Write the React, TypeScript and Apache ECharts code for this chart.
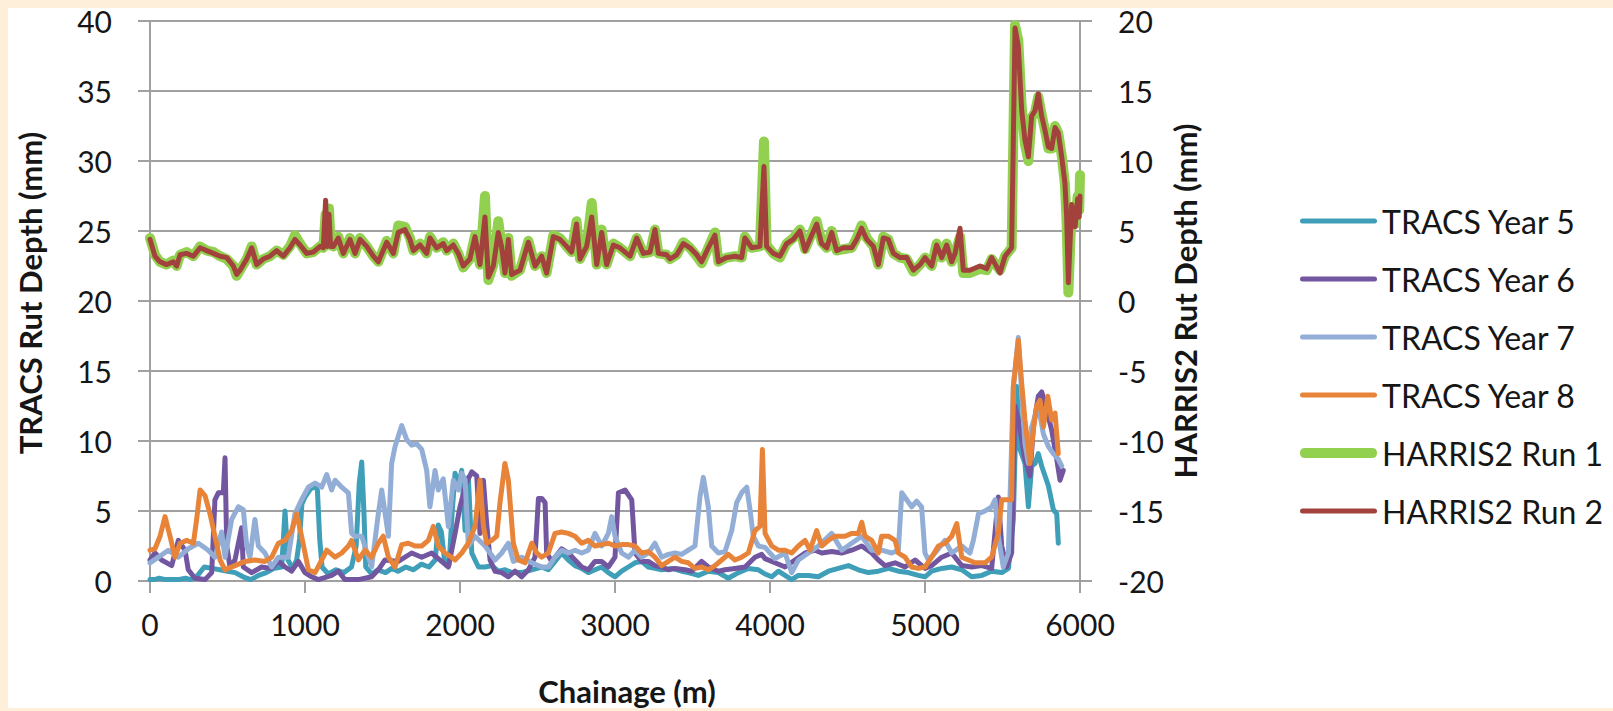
import React, { useEffect, useRef } from "react";
import * as echarts from "echarts";

// ---------------- DATA ----------------
const seriesNames = [
  "TRACS Year 5",
  "TRACS Year 6",
  "TRACS Year 7",
  "TRACS Year 8",
  "HARRIS2 Run 1",
  "HARRIS2 Run 2",
];

const xTicks = [0, 1000, 2000, 3000, 4000, 5000, 6000];

// TRACS Year 5 (left axis, mm)
const y5Chainage = [0, 30, 60, 100, 140, 180, 230, 260, 300, 350, 400, 450, 500, 550, 600, 650, 700, 750, 800, 850, 871, 890, 920, 946, 965, 980, 1000, 1030, 1060, 1080, 1095, 1110, 1150, 1200, 1250, 1300, 1330, 1350, 1366, 1380, 1392, 1430, 1470, 1520, 1560, 1600, 1650, 1700, 1750, 1800, 1840, 1860, 1880, 1900, 1930, 1950, 1968, 1990, 2011, 2033, 2054, 2076, 2097, 2119, 2162, 2205, 2248, 2291, 2334, 2398, 2463, 2527, 2570, 2613, 2656, 2699, 2742, 2785, 2828, 2871, 2914, 2957, 3000, 3043, 3086, 3129, 3172, 3215, 3258, 3301, 3366, 3430, 3473, 3538, 3602, 3667, 3731, 3796, 3860, 3925, 3968, 4011, 4054, 4097, 4140, 4183, 4248, 4312, 4377, 4441, 4506, 4570, 4635, 4699, 4764, 4828, 4893, 4957, 5000, 5043, 5108, 5172, 5237, 5301, 5366, 5430, 5495, 5538, 5570, 5592, 5613, 5645, 5667, 5688, 5710, 5731, 5753, 5796, 5828, 5850, 5860];
const y5Depth = [0.1, 0.1, 0.2, 0.1, 0.1, 0.1, 0.2, 0.1, 0.3, 1.0, 0.9, 0.8, 0.7, 0.6, 0.3, 0.1, 0.4, 0.6, 0.9, 1.0, 5.0, 1.5, 0.9, 1.5, 3.0, 5.5, 6.0, 6.5, 6.8, 6.5, 3.0, 1.0, 0.5, 0.8, 0.6, 1.0, 2.5, 7.0, 8.5, 5.0, 1.0, 0.5, 0.8, 0.6, 0.9, 0.7, 1.0, 0.8, 1.2, 1.0, 1.5, 4.0, 3.5, 1.5, 1.2, 5.0, 7.7, 6.8, 7.9, 3.6, 7.4, 2.0, 1.5, 1.0, 1.0, 1.1, 0.7, 0.8, 0.6, 0.6, 0.8, 1.0, 0.8, 1.4, 2.0, 1.5, 1.1, 0.9, 0.6, 0.8, 1.0, 0.6, 0.3, 0.7, 1.0, 1.3, 1.4, 1.0, 0.9, 0.8, 0.9, 0.7, 0.6, 0.4, 0.7, 0.6, 0.2, 0.6, 0.9, 0.8, 0.5, 0.3, 0.7, 0.4, 0.1, 0.4, 0.4, 0.3, 0.7, 0.9, 1.1, 0.8, 0.6, 0.7, 0.9, 0.7, 0.6, 0.4, 0.3, 0.7, 0.9, 1.0, 0.8, 0.3, 0.4, 0.7, 0.6, 0.9, 4.4, 13.9, 9.4, 8.4, 5.3, 8.2, 8.4, 9.1, 8.2, 6.8, 5.1, 4.8, 2.7];

// TRACS Year 6
const y6Chainage = [0, 32, 75, 140, 183, 226, 247, 290, 355, 398, 419, 441, 473, 484, 495, 516, 548, 591, 602, 656, 720, 785, 828, 871, 914, 957, 1000, 1043, 1086, 1172, 1215, 1258, 1344, 1430, 1473, 1516, 1602, 1688, 1753, 1817, 1860, 1925, 1968, 2000, 2040, 2076, 2108, 2129, 2151, 2172, 2194, 2226, 2269, 2312, 2355, 2398, 2441, 2484, 2506, 2527, 2549, 2559, 2592, 2635, 2656, 2699, 2742, 2785, 2828, 2871, 2914, 2957, 3000, 3022, 3065, 3108, 3129, 3172, 3215, 3258, 3301, 3344, 3387, 3452, 3495, 3559, 3602, 3667, 3710, 3774, 3839, 3903, 3946, 3968, 4032, 4097, 4161, 4226, 4291, 4334, 4398, 4463, 4527, 4592, 4656, 4699, 4742, 4807, 4871, 4936, 5000, 5043, 5108, 5172, 5237, 5301, 5366, 5430, 5473, 5495, 5527, 5559, 5581, 5602, 5645, 5677, 5699, 5731, 5753, 5785, 5817, 5850, 5871, 5892];
const y6Depth = [1.5, 2.0, 1.5, 1.1, 2.9, 2.2, 0.8, 0.2, 0.1, 0.6, 5.8, 6.3, 6.3, 8.8, 2.5, 1.0, 1.5, 3.8, 1.0, 0.6, 1.0, 0.9, 1.4, 1.0, 0.7, 1.4, 0.6, 0.3, 0.1, 0.4, 0.7, 0.1, 0.1, 0.3, 0.8, 1.5, 1.4, 2.0, 1.7, 2.0, 1.6, 1.0, 3.4, 5.3, 7.0, 7.8, 7.5, 3.4, 7.2, 4.1, 1.5, 0.7, 0.6, 0.3, 0.7, 0.3, 0.8, 1.7, 5.9, 5.9, 5.6, 2.0, 1.4, 2.0, 2.3, 2.0, 1.5, 1.0, 0.8, 1.4, 1.4, 1.0, 1.7, 6.3, 6.5, 5.8, 2.0, 1.4, 1.4, 1.1, 1.0, 0.8, 0.9, 0.8, 0.7, 1.4, 1.0, 0.7, 0.8, 0.9, 1.0, 1.7, 1.9, 1.6, 1.3, 1.0, 1.5, 2.0, 2.2, 2.0, 2.1, 2.0, 2.2, 2.5, 2.0, 1.5, 1.1, 1.3, 1.0, 1.5, 0.9, 1.1, 1.7, 2.0, 1.1, 1.0, 1.1, 0.9, 6.0, 2.5, 1.0, 2.0, 12.5, 11.5, 8.7, 7.5, 11.0, 13.2, 13.5, 12.2, 10.8, 8.7, 7.2, 7.9];

// TRACS Year 7
const y7Chainage = [0, 54, 118, 183, 247, 312, 376, 419, 462, 484, 527, 570, 602, 624, 645, 677, 699, 742, 785, 828, 892, 935, 978, 1022, 1065, 1108, 1140, 1172, 1194, 1237, 1280, 1301, 1323, 1366, 1430, 1473, 1495, 1538, 1559, 1581, 1624, 1656, 1688, 1720, 1753, 1785, 1806, 1839, 1860, 1892, 1925, 1957, 1990, 2011, 2033, 2054, 2097, 2162, 2226, 2269, 2312, 2344, 2398, 2463, 2527, 2570, 2613, 2656, 2699, 2742, 2785, 2828, 2871, 2914, 2957, 2979, 3000, 3043, 3086, 3129, 3172, 3215, 3258, 3301, 3344, 3387, 3430, 3473, 3516, 3548, 3570, 3602, 3624, 3667, 3710, 3753, 3785, 3817, 3850, 3871, 3892, 3925, 3968, 4032, 4097, 4140, 4183, 4248, 4312, 4398, 4463, 4527, 4592, 4656, 4720, 4785, 4828, 4850, 4882, 4914, 4946, 4978, 5000, 5022, 5065, 5129, 5172, 5237, 5290, 5312, 5345, 5387, 5430, 5452, 5473, 5505, 5538, 5570, 5602, 5624, 5645, 5667, 5688, 5731, 5764, 5796, 5828, 5860, 5882];
const y7Depth = [1.3, 1.7, 2.2, 1.7, 2.3, 2.7, 2.2, 1.7, 3.5, 1.7, 4.4, 5.3, 5.1, 2.5, 1.7, 4.4, 2.5, 2.0, 1.0, 1.7, 1.7, 4.8, 5.8, 6.7, 7.0, 6.7, 7.6, 6.5, 7.2, 6.7, 6.3, 3.4, 3.2, 3.2, 1.0, 4.8, 6.5, 3.2, 8.4, 9.6, 11.1, 10.1, 9.7, 9.8, 9.4, 7.9, 5.3, 7.9, 6.5, 7.3, 3.9, 7.2, 6.5, 7.7, 7.2, 2.5, 3.2, 2.5, 1.5, 2.0, 2.7, 1.4, 1.7, 1.3, 1.0, 1.0, 1.7, 2.2, 2.0, 2.2, 2.0, 2.2, 3.4, 2.5, 3.4, 4.6, 3.2, 2.0, 1.7, 2.2, 1.7, 2.0, 2.7, 1.7, 1.9, 2.0, 1.9, 2.2, 2.5, 6.0, 7.4, 5.3, 2.5, 2.0, 2.1, 3.6, 5.6, 6.3, 6.7, 5.1, 3.2, 2.5, 2.4, 1.6, 2.0, 0.6, 1.5, 2.0, 2.5, 3.4, 2.2, 2.7, 3.2, 2.2, 2.2, 2.0, 2.2, 6.3, 5.8, 5.3, 5.7, 5.3, 2.0, 1.5, 2.0, 2.9, 2.0, 2.5, 2.0, 2.9, 4.8, 5.0, 5.3, 5.8, 3.2, 1.0, 2.0, 13.9, 17.4, 13.4, 9.8, 8.4, 11.0, 12.5, 10.5, 9.6, 9.1, 8.7, 8.2];

// TRACS Year 8
const y8Chainage = [0, 32, 65, 97, 129, 161, 194, 237, 280, 301, 323, 355, 387, 419, 452, 484, 548, 613, 677, 742, 785, 828, 871, 914, 946, 978, 1022, 1065, 1108, 1140, 1194, 1237, 1280, 1301, 1344, 1387, 1430, 1473, 1505, 1538, 1581, 1624, 1667, 1710, 1753, 1796, 1828, 1860, 1903, 1946, 1968, 2011, 2054, 2097, 2129, 2151, 2172, 2205, 2237, 2258, 2290, 2312, 2344, 2376, 2420, 2463, 2495, 2527, 2570, 2613, 2656, 2699, 2742, 2785, 2828, 2871, 2914, 2957, 3000, 3043, 3086, 3129, 3172, 3215, 3258, 3301, 3344, 3387, 3430, 3473, 3516, 3559, 3602, 3645, 3688, 3731, 3774, 3817, 3860, 3903, 3935, 3951, 3968, 4011, 4054, 4097, 4140, 4183, 4226, 4258, 4301, 4334, 4377, 4420, 4484, 4527, 4570, 4592, 4613, 4656, 4699, 4720, 4764, 4807, 4828, 4871, 4914, 4957, 5000, 5043, 5086, 5129, 5172, 5205, 5237, 5280, 5323, 5387, 5430, 5473, 5495, 5538, 5559, 5570, 5602, 5624, 5645, 5677, 5699, 5720, 5742, 5764, 5792, 5817, 5839, 5860];
const y8Depth = [2.2, 2.3, 3.2, 4.6, 3.2, 1.7, 2.7, 2.9, 2.7, 4.4, 6.5, 6.1, 4.8, 3.2, 1.5, 0.8, 1.1, 1.4, 1.5, 1.4, 1.7, 2.7, 2.9, 3.6, 4.8, 3.2, 0.8, 0.6, 1.5, 2.2, 1.7, 2.0, 2.5, 2.9, 1.5, 2.2, 1.7, 2.7, 3.2, 1.7, 1.0, 2.6, 2.7, 2.5, 2.5, 2.9, 3.9, 2.5, 2.0, 1.7, 1.5, 2.0, 2.7, 3.9, 7.2, 3.9, 2.7, 2.9, 3.2, 5.6, 8.4, 7.2, 2.7, 1.5, 1.3, 2.7, 2.0, 1.7, 2.0, 3.4, 3.5, 3.4, 3.2, 2.7, 2.9, 2.5, 2.6, 2.7, 2.5, 2.6, 2.6, 2.5, 2.0, 2.1, 1.7, 1.1, 1.4, 1.7, 1.4, 1.3, 0.9, 1.0, 0.8, 1.1, 1.5, 1.9, 1.5, 1.7, 2.0, 3.6, 3.9, 9.4, 3.4, 2.5, 2.2, 2.2, 2.0, 2.5, 2.9, 2.2, 3.6, 2.5, 2.9, 3.2, 3.2, 3.4, 3.4, 4.2, 3.2, 2.9, 2.0, 3.2, 3.2, 2.9, 2.0, 1.7, 1.0, 0.9, 1.0, 1.7, 2.5, 2.7, 3.2, 4.1, 1.7, 1.5, 1.3, 1.3, 1.7, 3.4, 5.8, 5.8, 5.8, 13.9, 17.2, 14.1, 11.5, 8.4, 10.8, 12.5, 12.9, 11.0, 13.2, 11.5, 12.0, 9.1];

// HARRIS2 (right axis, mm)
const harrisChainage = [0, 32, 64, 107, 150, 172, 194, 236, 280, 323, 366, 409, 452, 495, 538, 559, 581, 624, 656, 688, 731, 774, 817, 860, 903, 935, 968, 1011, 1054, 1097, 1118, 1133, 1143, 1155, 1165, 1183, 1215, 1247, 1290, 1323, 1355, 1398, 1441, 1473, 1527, 1570, 1602, 1645, 1677, 1699, 1742, 1785, 1806, 1849, 1892, 1914, 1957, 1989, 2021, 2064, 2097, 2129, 2161, 2183, 2215, 2247, 2268, 2290, 2312, 2333, 2387, 2441, 2484, 2527, 2559, 2602, 2645, 2688, 2720, 2752, 2774, 2817, 2850, 2882, 2914, 2946, 2989, 3032, 3097, 3140, 3183, 3226, 3258, 3280, 3333, 3355, 3398, 3441, 3484, 3527, 3559, 3602, 3645, 3667, 3720, 3774, 3817, 3838, 3882, 3935, 3961, 3978, 4021, 4064, 4107, 4150, 4193, 4226, 4269, 4301, 4333, 4366, 4398, 4430, 4473, 4527, 4559, 4591, 4624, 4667, 4699, 4731, 4763, 4796, 4839, 4882, 4925, 4968, 5000, 5043, 5075, 5108, 5140, 5172, 5194, 5226, 5247, 5290, 5355, 5398, 5430, 5484, 5516, 5559, 5581, 5602, 5624, 5645, 5667, 5688, 5710, 5731, 5753, 5774, 5796, 5817, 5839, 5860, 5882, 5903, 5914, 5925, 5946, 5968, 5985, 5995, 6000];
const harrisRun1 = [4.5, 3.3, 2.8, 2.6, 2.9, 2.5, 3.3, 3.5, 3.2, 3.9, 3.6, 3.5, 3.2, 3.0, 2.5, 1.8, 2.2, 3.0, 3.9, 2.6, 3.0, 3.2, 3.6, 3.3, 3.9, 4.7, 4.1, 3.4, 3.5, 3.9, 3.8, 6.2, 4.0, 6.6, 4.0, 3.9, 4.6, 3.4, 4.5, 3.4, 4.5, 3.9, 3.2, 2.8, 4.3, 3.4, 5.4, 5.3, 4.5, 3.6, 4.1, 3.4, 4.6, 3.8, 4.2, 3.6, 4.1, 3.4, 2.4, 3.0, 4.7, 2.6, 7.5, 1.5, 2.6, 5.7, 4.0, 2.0, 4.5, 1.8, 2.2, 4.3, 2.5, 3.2, 2.0, 4.7, 4.5, 3.9, 3.5, 5.7, 3.0, 4.0, 7.0, 2.6, 5.1, 2.6, 4.1, 3.8, 3.2, 4.5, 3.4, 3.5, 5.1, 3.4, 3.3, 3.0, 3.3, 4.2, 3.8, 3.2, 2.7, 3.8, 4.9, 2.8, 3.1, 3.2, 3.1, 4.6, 3.8, 3.9, 11.4, 4.0, 3.4, 3.1, 4.1, 4.5, 5.1, 3.7, 4.8, 5.7, 4.2, 3.8, 5.0, 3.6, 3.7, 3.8, 4.5, 5.4, 4.5, 3.9, 2.6, 4.6, 4.4, 3.4, 3.1, 3.0, 2.1, 2.6, 3.1, 2.5, 4.1, 3.1, 4.1, 2.8, 3.4, 4.6, 2.0, 2.0, 2.3, 2.2, 3.0, 2.2, 3.2, 3.8, 19.7, 18.6, 13.8, 11.2, 10.0, 13.1, 13.5, 14.6, 13.3, 12.2, 10.9, 10.9, 12.5, 12.0, 10.4, 8.3, 5.5, 0.6, 6.6, 5.5, 7.5, 6.5, 9.0];
const harrisRun2 = [4.4, 3.2, 2.8, 2.6, 2.8, 2.5, 3.3, 3.4, 3.2, 3.8, 3.6, 3.4, 3.2, 3.1, 2.5, 1.9, 2.2, 3.0, 3.8, 2.6, 3.0, 3.2, 3.6, 3.2, 3.8, 4.4, 4.0, 3.4, 3.5, 3.9, 3.8, 7.2, 3.9, 6.2, 3.9, 3.9, 4.5, 3.4, 4.4, 3.4, 4.4, 3.9, 3.2, 2.8, 4.2, 3.4, 4.9, 5.1, 4.4, 3.6, 4.0, 3.4, 4.5, 3.8, 4.1, 3.6, 4.0, 3.4, 2.5, 3.0, 4.6, 2.6, 6.0, 1.7, 2.5, 4.9, 3.9, 2.0, 4.4, 1.9, 2.2, 4.2, 2.5, 3.2, 2.0, 4.6, 4.4, 3.9, 3.5, 5.5, 3.0, 3.9, 6.0, 2.6, 4.9, 2.6, 4.0, 3.8, 3.2, 4.5, 3.4, 3.5, 5.1, 3.4, 3.3, 3.0, 3.3, 4.1, 3.8, 3.3, 2.8, 3.8, 4.7, 2.8, 3.1, 3.2, 3.1, 4.5, 3.8, 3.9, 9.6, 3.9, 3.4, 3.2, 4.1, 4.4, 5.0, 3.6, 4.7, 5.5, 4.1, 3.8, 4.9, 3.6, 3.8, 3.8, 4.4, 5.2, 4.4, 3.9, 2.6, 4.5, 4.4, 3.4, 3.1, 3.1, 2.2, 2.6, 3.1, 2.5, 4.0, 3.1, 4.0, 2.8, 3.4, 5.2, 2.2, 2.2, 2.5, 2.3, 3.1, 2.0, 3.2, 3.8, 19.5, 18.2, 13.6, 11.5, 10.3, 13.2, 13.6, 14.8, 13.2, 12.2, 11.0, 10.9, 12.4, 12.0, 10.3, 8.4, 6.0, 1.3, 6.9, 5.3, 7.3, 6.0, 7.5];

// ---------------- STYLE ----------------
const colors = ["#3f9fb8", "#7356a0", "#92aed6", "#e8843a", "#92d050", "#a3423c"];
const widths = [5, 5, 5, 5, 10, 5];
const FONT = "Lato";
const TEXT = "#161616";
const GRID = "#a0a0a0";

const legendIcon = (t: number) => {
  const r = t / 2;
  return `path://M${r},0L${77 - r},0Q77,0 77,${r}Q77,${t} ${77 - r},${t}L${r},${t}Q0,${t} 0,${r}Q0,0 ${r},0Z`;
};

const zip = (xs: number[], ys: number[]) => xs.map((x, i) => [x, ys[i]]);

const seriesData = [
  zip(y5Chainage, y5Depth),
  zip(y6Chainage, y6Depth),
  zip(y7Chainage, y7Depth),
  zip(y8Chainage, y8Depth),
  zip(harrisChainage, harrisRun1),
  zip(harrisChainage, harrisRun2),
];

const axisLine = { show: true, onZero: false, lineStyle: { color: GRID, width: 2 } };
const axisTick = { show: true, inside: false, length: 12, lineStyle: { color: GRID, width: 2 } };
const labelStyle = { fontFamily: FONT, fontSize: 30, color: TEXT, formatter: (v: number) => String(v) };
const nameStyle = { fontFamily: FONT, fontSize: 31, fontWeight: "bold" as const, color: TEXT };

const option = {
  animation: false,
  textStyle: { fontFamily: FONT },
  grid: { left: 150, right: 533, top: 21, bottom: 130, containLabel: false, outerBoundsMode: "none" },
  legend: {
    orient: "vertical",
    left: 1300,
    top: 204,
    padding: 0,
    itemWidth: 77,
    itemHeight: 14,
    itemGap: 24,
    selectedMode: false,
    symbolKeepAspect: true,
    itemStyle: { borderWidth: 0 },
    textStyle: { fontFamily: FONT, fontSize: 32, color: TEXT, lineHeight: 34 },
    data: seriesNames.map((n, i) => ({ name: n, icon: legendIcon(widths[i]) })),
  },
  xAxis: {
    type: "value",
    min: xTicks[0],
    max: xTicks[xTicks.length - 1],
    interval: 1000,
    axisLine,
    axisTick,
    splitLine: { show: false },
    axisLabel: { ...labelStyle, margin: 28 },
    name: "Chainage (m)",
    nameLocation: "middle",
    nameGap: 94,
    nameTextStyle: { ...nameStyle, padding: [0, 0, 0, 24] },
  },
  yAxis: [
    {
      type: "value",
      position: "left",
      min: 0,
      max: 40,
      interval: 5,
      axisLine,
      axisTick,
      splitLine: { show: true, lineStyle: { color: GRID, width: 2 } },
      axisLabel: { ...labelStyle, margin: 38 },
      name: "TRACS Rut Depth (mm)",
      nameLocation: "middle",
      nameRotate: 90,
      nameGap: 105,
      nameTextStyle: { ...nameStyle, padding: [0, 0, 0, 16] },
    },
    {
      type: "value",
      position: "right",
      min: -20,
      max: 20,
      interval: 5,
      axisLine,
      axisTick,
      splitLine: { show: false },
      axisLabel: { ...labelStyle, margin: 38 },
      name: "HARRIS2 Rut Depth (mm)",
      nameLocation: "middle",
      nameRotate: 90,
      nameGap: 89,
      nameMoveOverlap: false,
      nameTextStyle: { ...nameStyle },
    },
  ],
  series: seriesNames.map((n, i) => ({
    name: n,
    type: "line",
    yAxisIndex: i >= 4 ? 1 : 0,
    data: seriesData[i],
    symbol: "none",
    showSymbol: false,
    silent: true,
    z: 2 + i,
    emphasis: { disabled: true },
    lineStyle: { color: colors[i], width: widths[i], cap: "round", join: "round" },
    itemStyle: { color: colors[i] },
  })),
};

export default function App() {
  const ref = useRef<HTMLDivElement>(null);
  useEffect(() => {
    if (!ref.current) return;
    const chart = echarts.init(ref.current, null, { renderer: "svg" });
    chart.setOption(option as any);
    return () => chart.dispose();
  }, []);
  return (
    <div
      style={{
        position: "fixed",
        left: 0,
        top: 0,
        width: 1613,
        height: 711,
        background: "#feefda",
        overflow: "hidden",
      }}
    >
      <div style={{ position: "absolute", left: 8, top: 8, width: 1605, height: 700, background: "#ffffff" }} />
      <div ref={ref} style={{ position: "absolute", left: 0, top: 0, width: 1613, height: 711 }} />
    </div>
  );
}
